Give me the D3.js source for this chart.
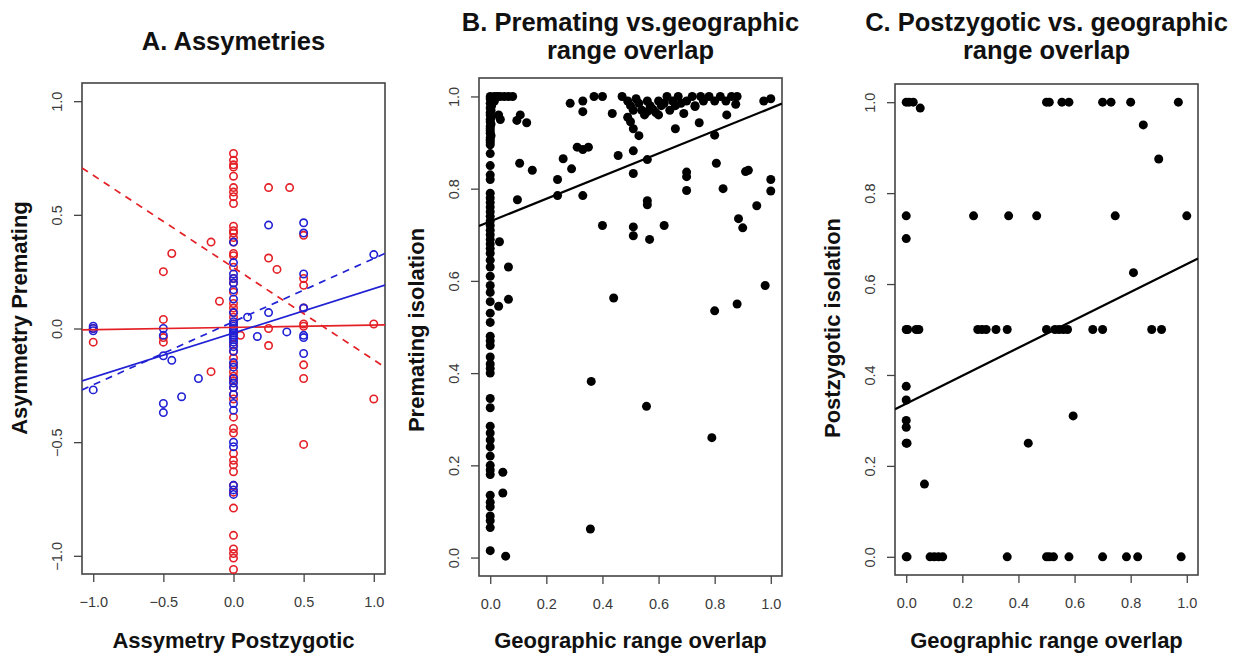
<!DOCTYPE html>
<html><head><meta charset="utf-8">
<script src="https://cdn.jsdelivr.net/npm/d3@7"></script>
<style>body{margin:0;background:#fff}text{font-family:"Liberation Sans",Arial,Helvetica,sans-serif}</style>
</head><body><svg id="c" width="1241" height="656"></svg>
<script>
// ---------- DATA ----------
const titles = [["A. Assymetries"], ["B. Premating vs.geographic", "range overlap"], ["C. Postzygotic vs. geographic", "range overlap"]];
const xTitles = ["Assymetry Postzygotic", "Geographic range overlap", "Geographic range overlap"];
const yTitles = ["Asymmetry Premating", "Premating isolation", "Postzygotic isolation"];

const asymTicks = [-1, -0.5, 0, 0.5, 1];
const asymTickLabels = ["\u22121.0", "\u22120.5", "0.0", "0.5", "1.0"];
const unitTicks = [0, 0.2, 0.4, 0.6, 0.8, 1];
const unitTickLabels = ["0.0", "0.2", "0.4", "0.6", "0.8", "1.0"];

// Panel A: red circles [postzygotic asym, premating asym]
const redPts = [
 [0,0.77],[0,0.74],[0,0.72],[0,0.71],[0,0.67],[0,0.62],[0,0.60],[0,0.58],[0,0.55],[0,0.45],[0,0.43],[0,0.42],[0,0.40],[0,0.38],
 [0,0.33],[0,0.32],[0,0.27],[0,0.22],[0,0.20],[0,0.16],[0,0.11],[0,0.09],[0,0.07],[0,0.05],[0,0.02],[0,-0.01],[0,-0.04],[0,-0.07],
 [0,-0.10],[0,-0.13],[0,-0.16],[0,-0.19],[0,-0.21],[0,-0.23],[0,-0.26],[0,-0.29],[0,-0.31],[0,-0.39],[0,-0.44],[0,-0.46],[0,-0.55],
 [0,-0.58],[0,-0.60],[0,-0.63],[0,-0.69],[0,-0.72],[0,-0.79],[0,-0.91],[0,-0.97],[0,-0.99],[0,-1.01],[0,-1.06],
 [0.25,0.62],[0.40,0.62],[-0.16,0.38],[-0.44,0.33],[-0.5,0.25],[0.25,0.31],[0.31,0.26],[-0.1,0.12],[0.5,0.41],[0.5,0.22],[0.5,0.19],
 [0.5,0.09],[-0.5,0.04],[1.0,0.02],[-0.5,-0.04],[-0.5,-0.06],[-1.0,-0.06],[-1.0,0.0],[0.25,0.0],[0.25,-0.075],[0.5,0.02],[0.5,0.01],
 [0.5,-0.16],[0.5,-0.22],[0.5,-0.51],[1.0,-0.31],[-0.16,-0.19],[0.05,-0.03]
];
// Panel A: blue circles
const bluePts = [
 [0.25,0.455],[0.5,0.465],[0.5,0.42],[0,0.38],[0,0.29],[0,0.24],[0,0.22],[0,0.20],[0,0.17],[0,0.13],[1.0,0.325],[0.5,0.24],
 [0.5,0.09],[0.25,0.07],[0.1,0.05],[-1.0,0.0],[-1.0,0.01],[-1.0,-0.01],[-0.5,0.0],[-0.5,-0.03],[-0.5,-0.12],[-0.44,-0.14],
 [-1.0,-0.27],[-0.25,-0.22],[-0.37,-0.30],[-0.5,-0.33],[-0.5,-0.37],[0.17,-0.035],[0.38,-0.015],[0.5,-0.03],[0.5,-0.04],[0.5,-0.11],
 [0,0.07],[0,0.03],[0,0.02],[0,0.01],[0,0.0],[0,-0.01],[0,-0.02],[0,-0.03],[0,-0.04],[0,-0.05],[0,-0.06],[0,-0.08],[0,-0.10],
 [0,-0.15],[0,-0.17],[0,-0.22],[0,-0.24],[0,-0.26],[0,-0.29],[0,-0.33],[0,-0.36],[0,-0.50],[0,-0.52],[0,-0.69],[0,-0.71],[0,-0.73]
];
// Panel A regression lines [intercept, slope]
const redSolidFit = [0.005, 0.01];
const redDashedFit = [0.268, -0.406];
const blueSolidFit = [-0.02, 0.195];
const blueDashedFit = [0.03, 0.278];

// Panel B: [range overlap, premating isolation]
const premPts = [
 [0,1.0],[0,0.995],[0.003,0.99],[0,0.985],[0.005,0.98],[0,0.975],[0.003,0.97],[0,0.965],[0,0.96],[0.004,0.955],[0,0.95],[0,0.945],
 [0.003,0.94],[0,0.935],[0,0.93],[0,0.925],[0,0.92],[0.003,0.915],[0,0.91],[0,0.905],[0,0.90],[0,0.895],[0,0.876],[0,0.85],
 [0,0.83],[0,0.82],[0,0.79],[0,0.78],[0,0.77],[0,0.76],[0,0.75],[0,0.74],[0,0.73],[0,0.72],[0,0.71],[0,0.70],[0,0.69],[0,0.68],
 [0,0.67],[0,0.66],[0,0.645],[0,0.63],[0,0.61],[0,0.59],[0,0.575],[0,0.555],[0,0.53],[0,0.51],[0,0.48],[0,0.47],[0,0.46],
 [0,0.435],[0,0.42],[0,0.41],[0,0.40],[0,0.345],[0,0.325],[0,0.285],[0,0.27],[0,0.255],[0,0.24],[0,0.22],[0,0.20],[0,0.19],
 [0,0.18],[0,0.135],[0,0.12],[0,0.11],[0,0.09],[0,0.08],[0,0.065],[0,0.015],
 [0.015,1.0],[0.025,1.0],[0.035,1.0],[0.05,1.0],[0.065,1.0],[0.08,1.0],[0.015,0.99],[0.03,0.96],[0.036,0.95],
 [0.095,0.948],[0.107,0.96],[0.13,0.943],[0.105,0.855],[0.15,0.84],[0.097,0.776],[0.033,0.685],[0.065,0.63],[0.065,0.56],[0.03,0.545],
 [0.24,0.82],[0.26,0.865],[0.29,0.843],[0.24,0.785],[0.33,0.785],[0.285,0.985],[0.33,0.99],[0.33,0.967],[0.31,0.89],[0.33,0.885],
 [0.35,0.89],[0.37,1.0],[0.40,1.0],[0.40,0.72],[0.44,0.563],[0.435,0.963],[0.456,0.872],[0.47,1.0],
 [0.49,0.99],[0.49,0.955],[0.50,0.945],[0.51,0.93],[0.53,0.915],[0.50,0.98],[0.51,0.97],[0.52,0.995],[0.53,0.985],[0.54,0.97],
 [0.55,0.96],[0.56,0.99],[0.56,0.967],[0.57,0.98],[0.58,0.972],[0.59,0.965],[0.60,0.99],[0.60,0.96],[0.61,0.98],[0.62,0.985],
 [0.63,1.0],[0.64,0.97],[0.65,0.99],[0.66,0.98],[0.67,1.0],[0.68,0.985],[0.70,0.99],[0.72,1.0],[0.73,0.98],[0.75,1.0],[0.76,0.99],
 [0.78,1.0],[0.80,0.99],[0.82,1.0],[0.84,0.99],[0.86,1.0],[0.88,1.0],
 [0.51,0.882],[0.51,0.833],[0.51,0.717],[0.51,0.698],[0.56,0.774],[0.56,0.765],[0.568,0.69],[0.56,0.863],[0.62,0.72],[0.66,0.93],
 [0.70,0.836],[0.70,0.826],[0.70,0.796],[0.69,0.963],[0.73,0.978],[0.745,0.943],[0.80,0.916],[0.806,0.855],[0.80,0.535],[0.83,0.80],
 [0.843,0.96],[0.875,0.983],[0.88,0.55],[0.885,0.735],[0.90,0.715],[0.91,0.837],[0.92,0.84],[0.95,0.763],[0.98,0.59],[0.975,0.99],
 [1.0,0.995],[1.0,0.82],[1.0,0.795],
 [0.045,0.185],[0.045,0.14],[0.055,0.003],[0.36,0.382],[0.557,0.328],[0.79,0.26],[0.357,0.062]
];
const premFit = [0.729, 0.2456];

// Panel C: [range overlap, postzygotic isolation]
const postPts = [
 [0,1.0],[0.01,1.0],[0.025,1.0],[0.05,0.987],[0.50,1.0],[0.51,1.0],[0.555,1.0],[0.58,1.0],[0.70,1.0],[0.73,1.0],[0.80,1.0],[0.97,1.0],
 [0.845,0.95],[0.90,0.875],
 [0,0.75],[0.24,0.75],[0.365,0.75],[0.465,0.75],[0.745,0.75],[1.0,0.75],
 [0,0.70],[0.81,0.625],
 [0,0.5],[0.005,0.5],[0.035,0.5],[0.045,0.5],[0.255,0.5],[0.27,0.5],[0.285,0.5],[0.32,0.5],[0.36,0.5],[0.50,0.5],[0.53,0.5],
 [0.545,0.5],[0.56,0.5],[0.575,0.5],[0.665,0.5],[0.70,0.5],[0.875,0.5],[0.91,0.5],
 [0,0.375],[0,0.345],[0,0.30],[0,0.285],[0,0.25],[0.003,0.25],[0.065,0.16],[0.435,0.25],[0.595,0.31],
 [0,0.0],[0.003,0.0],[0.085,0.0],[0.10,0.0],[0.115,0.0],[0.13,0.0],[0.36,0.0],[0.50,0.0],[0.51,0.0],[0.525,0.0],[0.58,0.0],
 [0.70,0.0],[0.785,0.0],[0.825,0.0],[0.98,0.0]
];
const postFit = [0.337, 0.307];

// ---------- DRAW ----------
const svg = d3.select("#c");
svg.append("rect").attr("width", 1241).attr("height", 656).attr("fill", "#fff");

function panel(cfg) {
  const x = d3.scaleLinear().domain(cfg.xd).range([cfg.l, cfg.r]);
  const y = d3.scaleLinear().domain(cfg.yd).range([cfg.b, cfg.t]);
  const g = svg.append("g");
  const clipId = "clip" + cfg.id;
  svg.append("clipPath").attr("id", clipId).append("rect")
    .attr("x", cfg.l).attr("y", cfg.t).attr("width", cfg.r - cfg.l).attr("height", cfg.b - cfg.t);

  const ax = g.append("g").attr("transform", `translate(0,${cfg.b})`)
    .call(d3.axisBottom(x).tickValues(cfg.xt).tickFormat((d, i) => cfg.xtl[i]).tickSize(8).tickSizeOuter(0));
  const ay = g.append("g").attr("transform", `translate(${cfg.l},0)`)
    .call(d3.axisLeft(y).tickValues(cfg.yt).tickFormat((d, i) => cfg.ytl[i]).tickSize(8).tickSizeOuter(0));
  [ax, ay].forEach(a => {
    a.select(".domain").remove();
    a.selectAll(".tick line").attr("stroke", "#444").attr("stroke-width", 1.3);
    a.selectAll(".tick text").attr("fill", "#3a3a3a").style("font-size", "14.5px");
  });
  ax.selectAll(".tick text").attr("y", 33).attr("dy", null);
  ay.selectAll(".tick text").attr("x", null).attr("dy", "0.35em")
    .attr("text-anchor", "middle").attr("transform", "translate(-25,0) rotate(-90)");

  g.append("rect").attr("x", cfg.l).attr("y", cfg.t).attr("width", cfg.r - cfg.l).attr("height", cfg.b - cfg.t)
    .attr("fill", "none").attr("stroke", "#444").attr("stroke-width", 1.6);

  const cx = (cfg.l + cfg.r) / 2;
  cfg.title.forEach((t, i) => {
    g.append("text").attr("x", cx).attr("y", cfg.titleY + i * 28).attr("text-anchor", "middle")
      .style("font-size", "25.5px").style("font-weight", "bold").attr("fill", "#111").text(t);
  });
  g.append("text").attr("x", cx).attr("y", 648).attr("text-anchor", "middle")
    .style("font-size", "22px").style("font-weight", "bold").attr("fill", "#111").text(cfg.xlab);
  g.append("text").attr("transform", `translate(${cfg.l - 55},${cfg.ylabY}) rotate(-90)`).attr("text-anchor", "middle")
    .style("font-size", "22px").style("font-weight", "bold").attr("fill", "#111").text(cfg.ylab);

  const plot = g.append("g").attr("clip-path", `url(#${clipId})`);
  return {x, y, plot};
}

function fitLine(p, fit, color, dash, w) {
  const [x0, x1] = p.x.domain();
  p.plot.append("line")
    .attr("x1", p.x(x0)).attr("y1", p.y(fit[0] + fit[1] * x0))
    .attr("x2", p.x(x1)).attr("y2", p.y(fit[0] + fit[1] * x1))
    .attr("stroke", color).attr("stroke-width", w).attr("stroke-dasharray", dash);
}

// Panel A
const pA = panel({id: "A", l: 82, r: 385, t: 83, b: 574, xd: [-1.08, 1.08], yd: [-1.08, 1.08],
  xt: asymTicks, xtl: asymTickLabels, yt: asymTicks, ytl: asymTickLabels,
  title: titles[0], titleY: 50, xlab: xTitles[0], ylab: yTitles[0], ylabY: 318});
pA.plot.selectAll(".red").data(redPts).join("circle").attr("class", "red")
  .attr("cx", d => pA.x(d[0])).attr("cy", d => pA.y(d[1])).attr("r", 3.7)
  .attr("fill", "none").attr("stroke", "#e42026").attr("stroke-width", 1.6);
pA.plot.selectAll(".blue").data(bluePts).join("circle").attr("class", "blue")
  .attr("cx", d => pA.x(d[0])).attr("cy", d => pA.y(d[1])).attr("r", 3.7)
  .attr("fill", "none").attr("stroke", "#2020d4").attr("stroke-width", 1.6);
fitLine(pA, redSolidFit, "#e42026", null, 1.7);
fitLine(pA, redDashedFit, "#e42026", "7,6", 1.7);
fitLine(pA, blueSolidFit, "#2020d4", null, 1.7);
fitLine(pA, blueDashedFit, "#2020d4", "7,6", 1.7);

// Panel B
const pB = panel({id: "B", l: 479, r: 782, t: 78, b: 576, xd: [-0.04, 1.04], yd: [-0.04, 1.04],
  xt: unitTicks, xtl: unitTickLabels, yt: unitTicks, ytl: unitTickLabels,
  title: titles[1], titleY: 31, xlab: xTitles[1], ylab: yTitles[1], ylabY: 330});
pB.plot.selectAll(".pt").data(premPts).join("circle").attr("class", "pt")
  .attr("cx", d => pB.x(d[0])).attr("cy", d => pB.y(d[1])).attr("r", 4.5).attr("fill", "#000");
fitLine(pB, premFit, "#000", null, 2.2);

// Panel C
const pC = panel({id: "C", l: 895, r: 1198, t: 84, b: 575, xd: [-0.04, 1.04], yd: [-0.04, 1.04],
  xt: unitTicks, xtl: unitTickLabels, yt: unitTicks, ytl: unitTickLabels,
  title: titles[2], titleY: 31, xlab: xTitles[2], ylab: yTitles[2], ylabY: 328});
pC.plot.selectAll(".pt").data(postPts).join("circle").attr("class", "pt")
  .attr("cx", d => pC.x(d[0])).attr("cy", d => pC.y(d[1])).attr("r", 4.5).attr("fill", "#000");
fitLine(pC, postFit, "#000", null, 2.2);
</script></body></html>
